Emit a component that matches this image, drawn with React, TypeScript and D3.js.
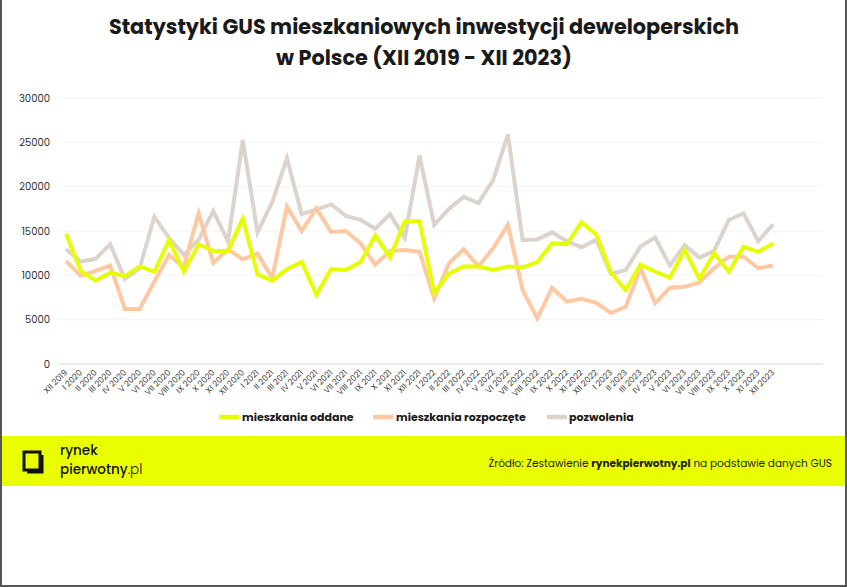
import React from "react";
import * as d3 from "d3";

const months = [
  "XII 2019",
  "I 2020","II 2020","III 2020","IV 2020","V 2020","VI 2020","VII 2020","VIII 2020","IX 2020","X 2020","XI 2020","XII 2020",
  "I 2021","II 2021","III 2021","IV 2021","V 2021","VI 2021","VII 2021","VIII 2021","IX 2021","X 2021","XI 2021","XII 2021",
  "I 2022","II 2022","III 2022","IV 2022","V 2022","VI 2022","VII 2022","VIII 2022","IX 2022","X 2022","XI 2022","XII 2022",
  "I 2023","II 2023","III 2023","IV 2023","V 2023","VI 2023","VII 2023","VIII 2023","IX 2023","X 2023","XI 2023","XII 2023",
];

const oddane = [
  14700,
  10500, 9400, 10300, 9900, 11000, 10400, 14000, 10400, 13500, 12750, 12750, 16400,
  10100, 9400, 10700, 11500, 7800, 10700, 10600, 11500, 14500, 12000, 16100, 16100,
  8000, 10200, 11000, 11000, 10600, 11000, 10900, 11500, 13600, 13500, 16000, 14600,
  10300, 8350, 11200, 10400, 9750, 12850, 9600, 12500, 10400, 13200, 12650, 13600,
];

const rozpoczete = [
  11600,
  9950, 10500, 11100, 6200, 6200, 9300, 12300, 10900, 17000, 11400, 12950, 11800,
  12450, 9700, 17750, 15000, 17550, 14900, 15000, 13600, 11200, 12750, 12850, 12650,
  7400, 11350, 12950, 11000, 13050, 15700, 8350, 5150, 8600, 7050, 7350, 6900,
  5750, 6450, 10800, 6850, 8600, 8700, 9200, 10800, 12100, 12100, 10800, 11100,
];

const pozwolenia = [
  12950,
  11550, 11850, 13500, 9600, 10800, 16600, 14200, 12300, 14000, 17250, 13800, 25250,
  14850, 18250, 23200, 16900, 17400, 18000, 16700, 16250, 15250, 16900, 14200, 23500,
  15700, 17500, 18850, 18150, 20750, 25900, 14000, 14050, 14850, 13850, 13150, 14000,
  10150, 10600, 13250, 14250, 11100, 13400, 12000, 12750, 16250, 17000, 13850, 15750,
];

const yTicks = [0, 5000, 10000, 15000, 20000, 25000, 30000];

const seriesNames = ["mieszkania oddane", "mieszkania rozpoczęte", "pozwolenia"];
const seriesColors = ["#e6ff00", "#fdc8a2", "#dcd3cc"];
const seriesData = [oddane, rozpoczete, pozwolenia];

const W = 847;
const H = 587;
const FONT = "Poppins, 'Open Sans', 'Noto Sans', sans-serif";

export default function App() {
  const x = d3.scalePoint<number>().domain(d3.range(months.length)).range([66, 773]);
  const y = d3.scaleLinear().domain([0, 30000]).range([364, 98]);
  const line = d3
    .line<number>()
    .x((_, i) => x(i) as number)
    .y((d) => y(d));

  const legendItems = [
    { sx: 219, tx: 242 },
    { sx: 373, tx: 396 },
    { sx: 547, tx: 569 },
  ];

  return (
    <svg
      width={W}
      height={H}
      style={{ position: "absolute", left: 0, top: 0, background: "#fff" }}
      fontFamily={FONT}
    >
      <rect x={0} y={0} width={W} height={H} fill="#ffffff" />
      <text x={424} y={34} textAnchor="middle" fontSize={20.8} fontWeight={700} fill="#1a1a1a">
        Statystyki GUS mieszkaniowych inwestycji deweloperskich
      </text>
      <text x={424} y={65} textAnchor="middle" fontSize={20.8} fontWeight={700} fill="#1a1a1a">
        w Polsce (XII 2019 - XII 2023)
      </text>

      {yTicks.map((t) => (
        <g key={t}>
          <line
            x1={60}
            x2={823}
            y1={y(t)}
            y2={y(t)}
            stroke={t === 0 ? "#e3e3e3" : "#f3f3f3"}
            strokeWidth={t === 0 ? 1.5 : 1}
          />
          <text x={50} y={y(t) + 3.5} textAnchor="end" fontSize={10} fill="#333">
            {t}
          </text>
        </g>
      ))}

      {months.map((m, i) => (
        <text
          key={m}
          transform={`translate(${(x(i) as number) + 2},${373}) rotate(-45)`}
          textAnchor="end"
          fontSize={8.4}
          fill="#444"
        >
          {m}
        </text>
      ))}

      {[2, 1, 0].map((s) => (
        <path
          key={s}
          d={line(seriesData[s]) || ""}
          fill="none"
          stroke={seriesColors[s]}
          strokeWidth={4}
          strokeLinejoin="miter"
        />
      ))}

      {legendItems.map((it, i) => (
        <g key={i}>
          <line x1={it.sx} x2={it.sx + 20} y1={417} y2={417} stroke={seriesColors[i]} strokeWidth={4.5} />
          <text x={it.tx} y={421} fontSize={11} fontWeight={700} fill="#1a1a1a">
            {seriesNames[i]}
          </text>
        </g>
      ))}

      <rect x={2} y={436} width={843} height={50} fill="#e9ff00" />
      <g>
        <path d="M24,452 L40,452 L40,470 L24,470 Z" fill="none" stroke="#111" strokeWidth={3} />
        <path d="M27,472 L42,472 L42,455" fill="none" stroke="#111" strokeWidth={3} />
      </g>
      <text x={60} y={454.5} fontSize={13.5} fill="#111" fontWeight={500}>
        rynek
      </text>
      <text x={60} y={474} fontSize={13.5} fill="#111" fontWeight={500}>
        pierwotny<tspan fontWeight={300}>.pl</tspan>
      </text>
      <text x={832} y={467} textAnchor="end" fontSize={10.5} fill="#222">
        Źródło: Zestawienie <tspan fontWeight={700}>rynekpierwotny.pl</tspan> na podstawie danych GUS
      </text>

      <line x1={1} x2={1} y1={0} y2={586} stroke="#555" strokeWidth={2} />
      <line x1={846} x2={846} y1={0} y2={586} stroke="#555" strokeWidth={2} />
      <line x1={0} x2={847} y1={586} y2={586} stroke="#555" strokeWidth={2} />
    </svg>
  );
}
